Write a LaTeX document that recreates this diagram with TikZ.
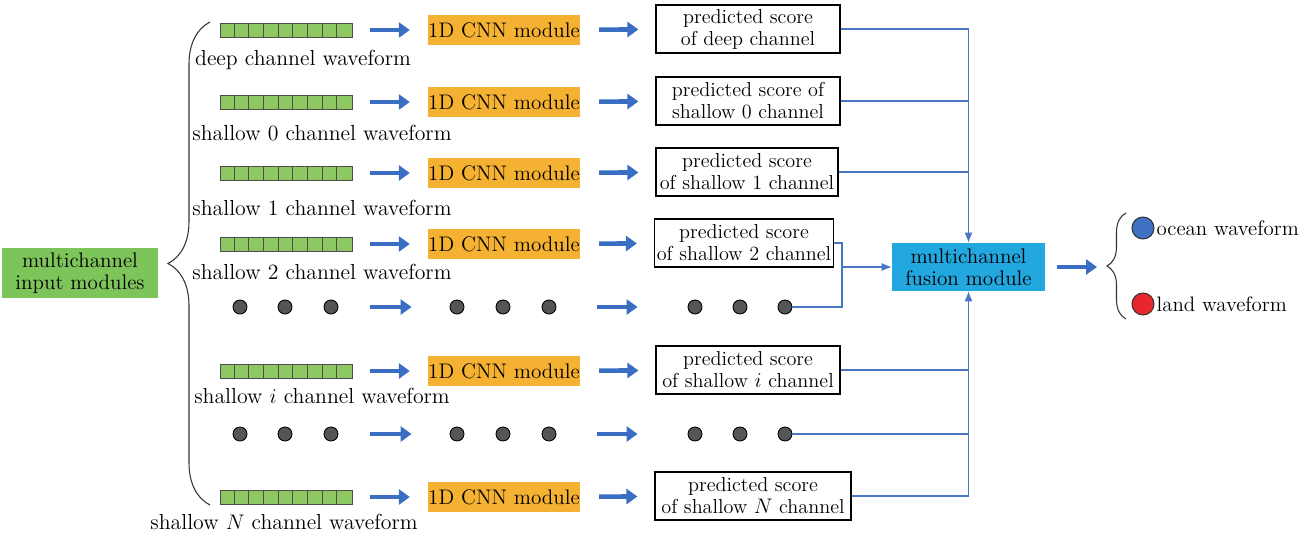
\documentclass[tikz,border=0pt]{standalone}
\usetikzlibrary{arrows.meta,calc,decorations.pathreplacing}

\definecolor{cellgreen}{HTML}{8DC862}
\definecolor{boxgreen}{HTML}{7DC45B}
\definecolor{cnnorange}{HTML}{F5B131}
\definecolor{fusionblue}{HTML}{22A7DF}
\definecolor{arrowblue}{HTML}{3A6EC3}
\definecolor{linkblue}{HTML}{4A76C8}
\definecolor{dotgray}{HTML}{555555}
\definecolor{oceanblue}{HTML}{3F70C2}
\definecolor{landred}{HTML}{E8262B}

\tikzset{
  wavebar/.style={draw=black!70, fill=cellgreen, line width=0.5pt, minimum width=2.64cm, minimum height=0.28cm, inner sep=0pt},
  cnnbox/.style={fill=cnnorange, minimum width=2.96cm, minimum height=0.6cm, inner sep=0pt, font=\fontsize{12}{14}\selectfont},
  scorebox/.style={draw, line width=0.7pt, fill=white, minimum height=0.96cm, align=center, inner sep=1pt, font=\fontsize{11.5}{12.5}\selectfont},
  blob/.style={circle, draw=black, fill=dotgray, line width=0.5pt, minimum size=0.28cm, inner sep=0pt},
  fatarrow/.style={draw=arrowblue, line width=2.6pt, -{Triangle[length=2.2mm,width=3mm]}},
  link/.style={draw=linkblue, line width=0.6pt},
  linkarrow/.style={link, -{Latex[length=2mm,width=1.6mm]}},
  bracket/.style={decorate, line width=0.6pt, draw=black!80},
  classdot/.style={circle, draw=black!80, line width=0.6pt, minimum size=0.44cm, inner sep=0pt},
  classlabel/.style={anchor=west, inner sep=1pt, font=\fontsize{11.9}{14}\selectfont},
}

\begin{document}
\begin{tikzpicture}[x=0.02cm, y=-0.02cm, font=\fontsize{12.4}{14}\selectfont]
  \useasboundingbox (0,0) rectangle (1313,538);

  % Input modules and the big brace
  \node[fill=boxgreen, minimum width=3.12cm, minimum height=1cm, align=center, inner sep=0pt,
        font=\fontsize{12}{12.5}\selectfont] (inputs) at (80,273) {multichannel\\input modules};
  \draw[bracket, decoration={brace, amplitude=0.84cm}] (210,505) -- (210,22);

  % Channels: waveform -> 1D CNN -> predicted score
  \foreach \r/\y/\lx/\ly/\sx/\sw/\lbl/\txt in {
      a/30/303/60/748/3.68cm/{deep channel waveform}/{predicted score\\of deep channel},
      b/102/322/133/748/3.68cm/{shallow 0 channel waveform}/{predicted score of\\shallow 0 channel},
      c/173/322/208/747/3.64cm/{shallow 1 channel waveform}/{predicted score\\of shallow 1 channel},
      d/244/322/272/744/3.58cm/{shallow 2 channel waveform}/{predicted score\\of shallow 2 channel},
      i/371/322/396/748/3.68cm/{shallow $i$ channel waveform}/{predicted score\\of shallow $i$ channel},
      N/497/284/522/753/3.92cm/{shallow $N$ channel waveform}/{predicted score\\of shallow $N$ channel}} {
    \node[wavebar] (wave\r) at (286,\y) {};
    \foreach \k in {1,...,8}
      \draw[black!70, line width=0.5pt] ($(wave\r.north west)+(\k*14.67,0)$) -- ($(wave\r.south west)+(\k*14.67,0)$);
    \node (label\r) at (\lx,\ly) {\lbl};
    \node[cnnbox] (cnn\r) at (504,\y) {1D CNN module};
    \node[scorebox, minimum width=\sw] (score\r) at (\sx,\y-1) {\txt};
    \draw[fatarrow, shorten <=0.36cm, shorten >=0.36cm] (wave\r) -- (cnn\r);
    \draw[fatarrow, shorten <=0.38cm, shorten >=0.34cm] (cnn\r) -- (score\r);
  }

  % Rows of dots for the omitted channels
  \foreach \r/\y in {p/307, q/434} {
    \foreach \x [count=\n] in {240,285,331,457,503,549,695,740,785}
      \node[blob] (dot\r\n) at (\x,\y) {};
    \draw[fatarrow, shorten <=0.64cm, shorten >=0.76cm] (dot\r3) -- (dot\r4);
    \draw[fatarrow, shorten <=0.82cm, shorten >=1cm] (dot\r6) -- (dot\r7);
  }

  % Fusion module
  \node[fill=fusionblue, minimum width=3.06cm, minimum height=0.96cm, align=center, inner sep=0pt,
        font=\fontsize{12}{12.5}\selectfont] (fusion) at (968.5,267) {multichannel\\fusion module};

  % Links from the scores to the fusion module
  \draw[linkarrow] (scorea.east) -| (fusion.north);
  \draw[link] (scoreb.east) -- (scoreb.east -| fusion.north);
  \draw[link] (scorec.east) -- (scorec.east -| fusion.north);
  \coordinate (join) at (842,267);
  \draw[link] (scored.east) -| (join);
  \draw[link] (dotp9.east) -| (join);
  \draw[linkarrow] (join) -- (fusion.west);
  \draw[linkarrow] (scoreN.east) -| (fusion.south);
  \draw[link] (scorei.east) -- (scorei.east -| fusion.south);
  \draw[link] (dotq9.east) -- (dotq9.east -| fusion.south);

  % Output classes
  \coordinate (outtip) at (1107,267);
  \draw[fatarrow, shorten <=0.24cm, shorten >=0.2cm] (fusion) -- (outtip);
  \draw[bracket, decoration={brace, amplitude=0.38cm}] (1126,319) -- (1126,213);
  \node[classdot, fill=oceanblue] (ocean) at (1143,228) {};
  \node[classlabel] (oceanlabel) at (ocean.east) {ocean waveform};
  \node[classdot, fill=landred] (land) at (1143,304) {};
  \node[classlabel] (landlabel) at (land.east) {land waveform};
\end{tikzpicture}
\end{document}
